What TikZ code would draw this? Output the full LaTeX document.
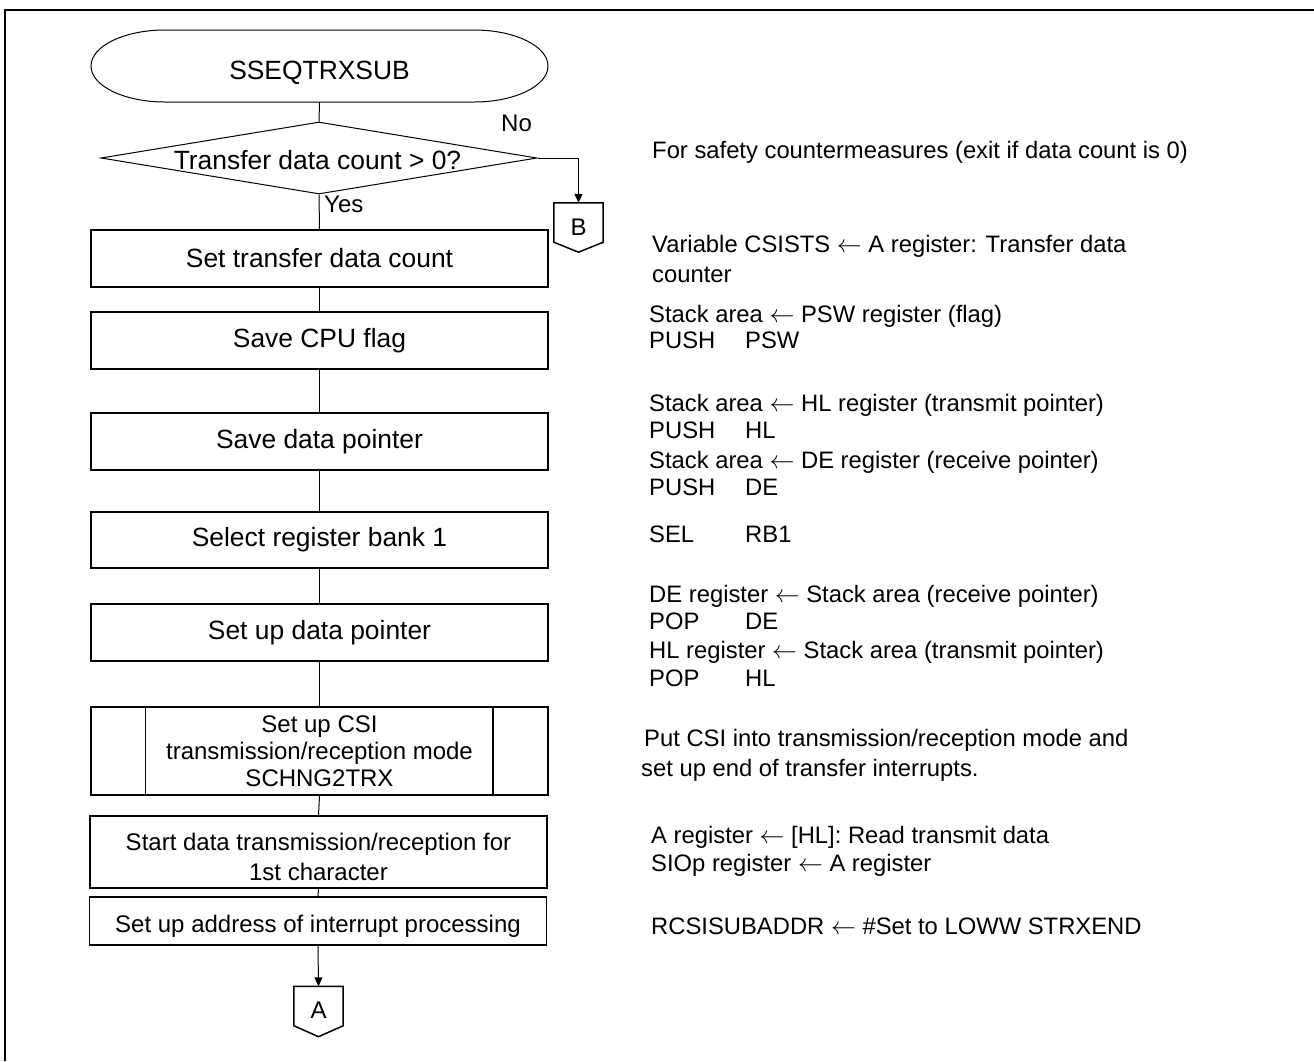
\documentclass[tikz,border=0pt]{standalone}
\usepackage{fontspec}
\setmainfont{Liberation Sans}
\usetikzlibrary{calc,arrows.meta,shapes.geometric}
\newcommand\FntBox{\fontsize{26.4}{30}\selectfont}
\newcommand\FntSm{\fontsize{24}{27}\selectfont}
\newcommand\FntRt{\fontsize{23.8}{28}\selectfont}
\newcommand\col[1]{\makebox[96pt][l]{#1}}
\begin{document}
\begin{tikzpicture}[x=1pt,y=-1pt,
  box/.style={draw,line width=1.5pt,minimum width=457pt,inner sep=0pt,align=center,font=\FntBox},
  conn/.style={line width=1pt},
  arr/.style={line width=1pt,-{Triangle[length=9pt,width=8pt]}},
  offp/.style={minimum width=49pt,minimum height=39pt,inner sep=0pt,text height=25pt,text depth=0pt,font=\FntSm},
  rt/.style={anchor=base west,inner sep=0pt,font=\FntRt},
  lab/.style={anchor=west,inner sep=0pt,font=\FntSm}]
\useasboundingbox (0,0) rectangle (1314,1061);
\fill[white] (0,0) rectangle (1314,1061);
\draw[line width=2pt] (5,1061) -- (5,10) -- (1314,10);

% terminal
\node[minimum width=457pt,minimum height=72pt,inner sep=0pt,text height=26pt,text depth=0pt,font=\FntBox] (start) at (319.5,66) {SSEQTRXSUB};
\draw[line width=1pt] (165,30) -- (474,30) arc[start angle=-90,end angle=90,x radius=74,y radius=36]
  -- (165,102) arc[start angle=90,end angle=270,x radius=74,y radius=36] -- cycle;

% decision
\node[draw,diamond,line width=1pt,minimum width=436pt,minimum height=72pt,inner sep=0pt] (dia) at (319,158) {};
\node[inner sep=0pt,font=\FntBox] (diatxt) at (317.5,160) {Transfer data count > 0?};
\node[lab] (yes) at (324,204) {Yes};
\node[lab] (no) at (501,123) {No};

% off-page B
\node[offp] (B) at (578.5,222.5) {B};
\draw[line width=1.5pt] (B.north west) -- (B.north east) -- (B.south east) -- ($(B.south)+(0,10)$) -- (B.south west) -- cycle;

% process boxes
\node[box,minimum height=57pt] (b1) at (319.5,258.5) {Set transfer data count};
\node[box,minimum height=57pt] (b2) at (319.5,340.5) {Save CPU flag};
\node[box,minimum height=57pt] (b3) at (319.5,441.5) {Save data pointer};
\node[box,minimum height=56pt] (b4) at (319.5,540) {Select register bank 1};
\node[box,minimum height=57pt] (b5) at (319.5,632.5) {Set up data pointer};
\node[box,minimum height=88pt,font=\FntSm] (b6) at (319.5,751) {Set up CSI\\transmission/reception mode\\SCHNG2TRX};
\draw[line width=1.5pt] ($(b6.north west)+(55,0)$) -- ($(b6.south west)+(55,0)$);
\draw[line width=1.5pt] ($(b6.north east)+(-56,0)$) -- ($(b6.south east)+(-56,0)$);
\node[box,minimum height=72pt,text height=57pt,text depth=0pt,font=\fontsize{24}{30}\selectfont] (b7) at (318.5,852) {Start data transmission/reception for\\1st character};
\node[box,minimum height=48pt,text height=23pt,text depth=0pt,font=\FntSm] (b8) at (318,921) {Set up address of interrupt processing};

% off-page A
\node[offp] (A) at (318.5,1006) {A};
\draw[line width=1.5pt] (A.north west) -- (A.north east) -- (A.south east) -- ($(A.south)+(0,11)$) -- (A.south west) -- cycle;

% connectors
\draw[conn] (start.south) -- (dia.north);
\draw[conn] (dia.south) -- (b1.north);
\draw[arr] (dia.east) -| (B.north);
\draw[conn] (b1.south) -- (b2.north);
\draw[conn] (b2.south) -- (b3.north);
\draw[conn] (b3.south) -- (b4.north);
\draw[conn] (b4.south) -- (b5.north);
\draw[conn] (b5.south) -- (b6.north);
\draw[conn] (b6.south) -- (b7.north);
\draw[conn] (b7.south) -- (b8.north);
\draw[arr] (b8.south) -- (A.north);

% right-hand comments
\node[rt] (r1) at (652,158) {For safety countermeasures (exit if data count is 0)};
\node[rt] (r2) at (652,252) {Variable CSISTS $\leftarrow$ A register: Transfer data};
\node[rt] (r3) at (652,282) {counter};
\node[rt] (r4) at (649,322) {Stack area $\leftarrow$ PSW register (flag)};
\node[rt] (r5) at (649,348) {\col{PUSH}PSW};
\node[rt] (r6) at (649,411) {Stack area $\leftarrow$ HL register (transmit pointer)};
\node[rt] (r7) at (649,438) {\col{PUSH}HL};
\node[rt] (r8) at (649,468) {Stack area $\leftarrow$ DE register (receive pointer)};
\node[rt] (r9) at (649,495) {\col{PUSH}DE};
\node[rt] (r10) at (649,542) {\col{SEL}RB1};
\node[rt] (r11) at (649,602) {DE register $\leftarrow$ Stack area (receive pointer)};
\node[rt] (r12) at (649,629) {\col{POP}DE};
\node[rt] (r13) at (649,658) {HL register $\leftarrow$ Stack area (transmit pointer)};
\node[rt] (r14) at (649,686) {\col{POP}HL};
\node[rt] (r15) at (644,746) {Put CSI into transmission/reception mode and};
\node[rt] (r16) at (641,776) {set up end of transfer interrupts.};
\node[rt] (r17) at (651,843) {A register $\leftarrow$ [HL]: Read transmit data};
\node[rt] (r18) at (651,871) {SIOp register $\leftarrow$ A register};
\node[rt] (r19) at (651,934) {RCSISUBADDR $\leftarrow$ \#Set to LOWW STRXEND};
\end{tikzpicture}
\end{document}
